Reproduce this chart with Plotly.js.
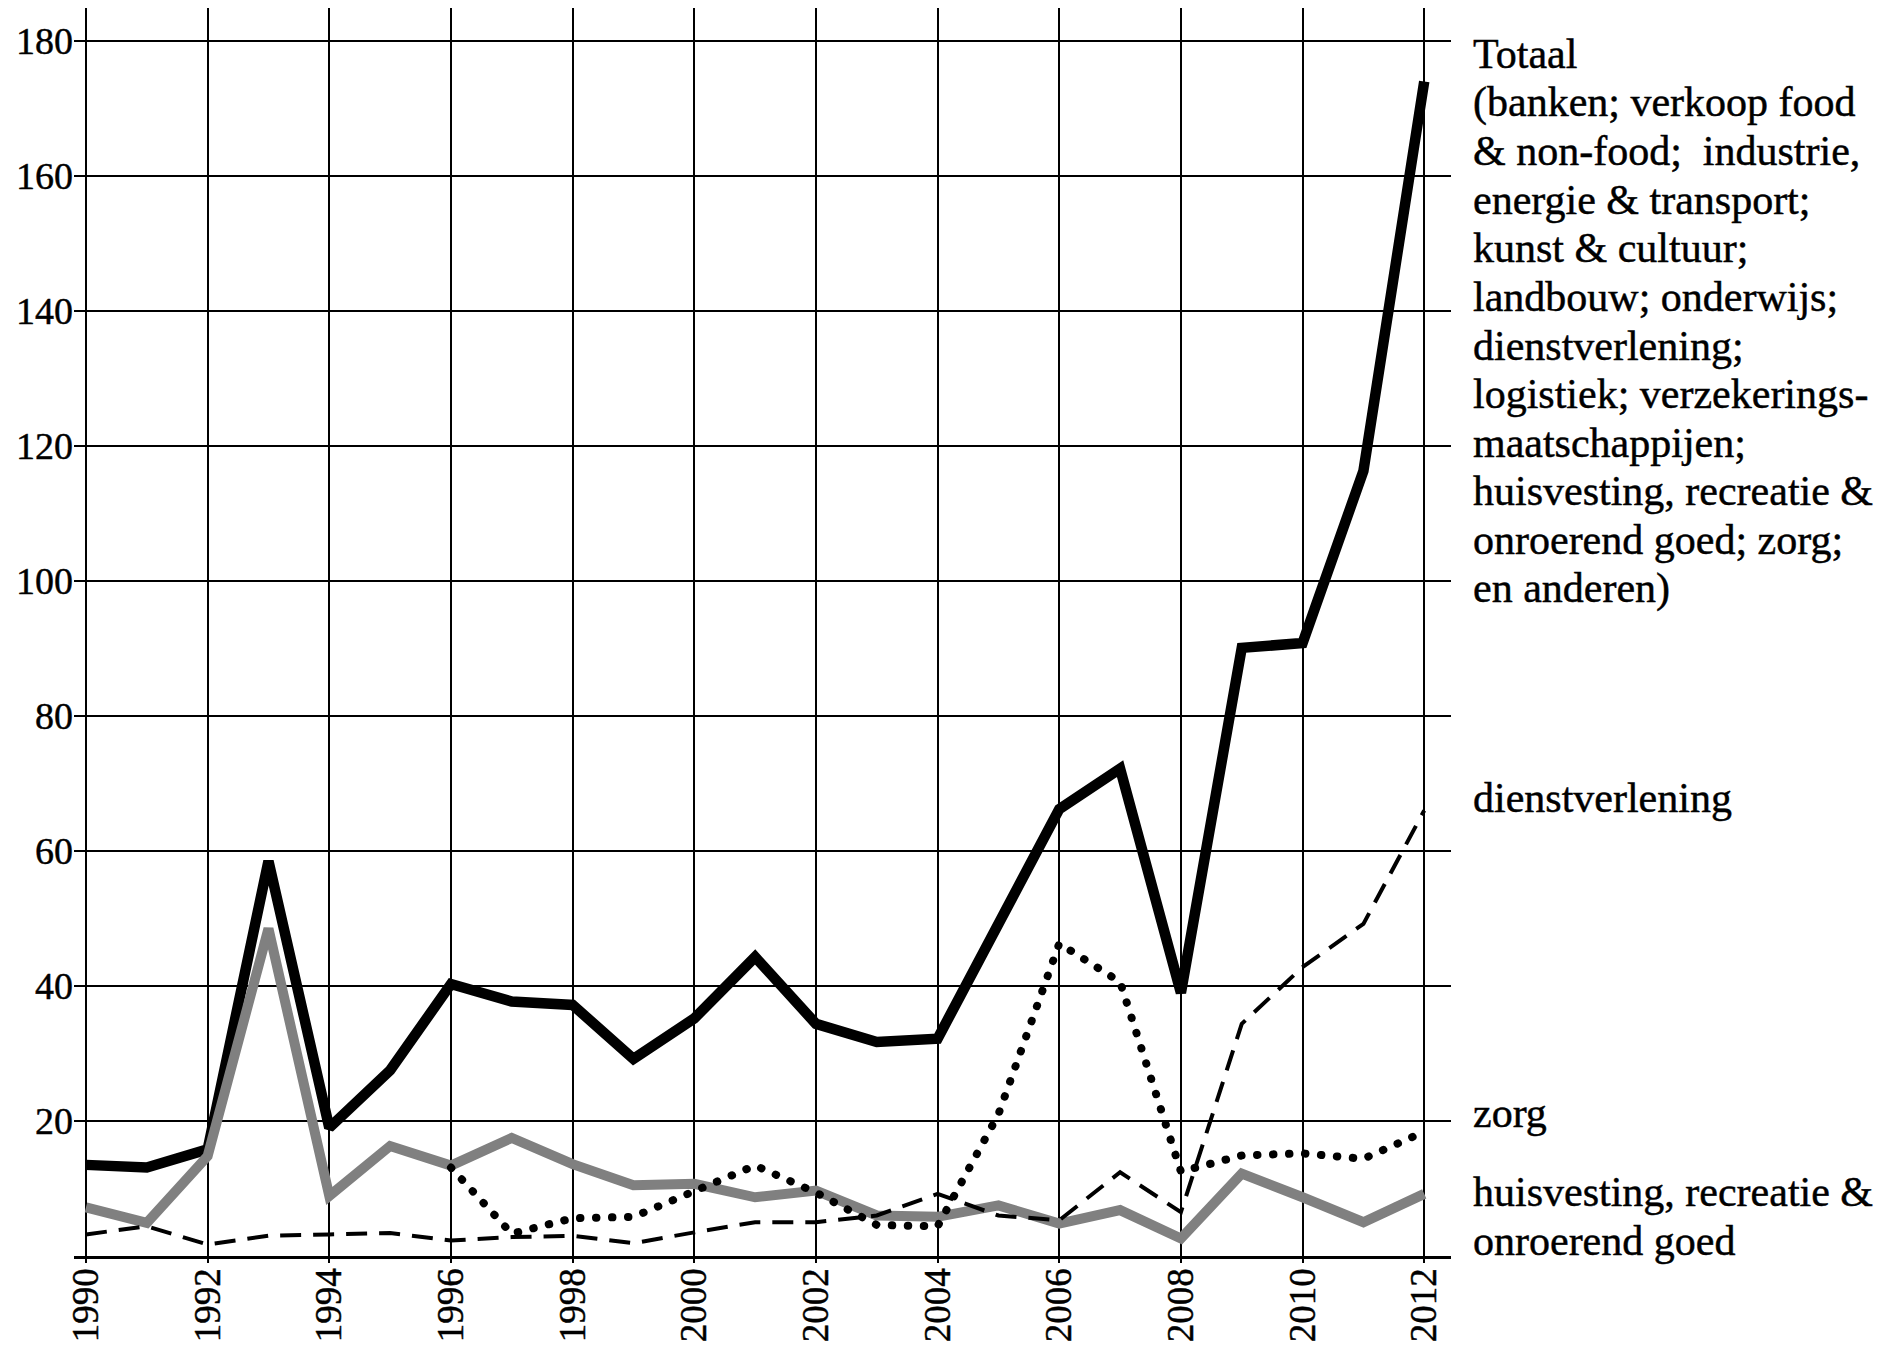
<!DOCTYPE html>
<html>
<head>
<meta charset="utf-8">
<script src="https://cdn.plot.ly/plotly-3.0.1.min.js"></script>
<style>
  html, body { margin: 0; padding: 0; background: #fff; }
  #chart { width: 1897px; height: 1349px; }
  .infolayer .annotation text, .xtick text, .ytick text { stroke: #000; stroke-width: 0.45px; }
</style>
</head>
<body>
<div id="chart"></div>
<script>
// ---- data ----
const years = [1990,1991,1992,1993,1994,1995,1996,1997,1998,1999,2000,2001,2002,2003,2004,2005,2006,2007,2008,2009,2010,2011,2012];
const totaal = [13.5,13.1,15.8,58.5,19,27.5,40.3,37.7,37.2,29.2,35.2,44.3,34.4,31.7,32.2,49.5,66.2,72.2,39,90.1,90.8,116.3,174];
const huisvesting = [7.2,4.9,14.8,48.5,8.9,16.3,13.4,17.5,13.6,10.5,10.7,8.7,9.7,6.0,5.8,7.5,4.8,6.8,2.6,12.2,8.7,5.0,9.2];
const dienstverlening = [3.2,4.4,1.7,3.0,3.2,3.4,2.3,2.8,3.0,1.9,3.5,5.0,5.0,6.0,9.2,6.0,5.3,12.4,6.5,34.4,42.8,49.2,66.0];
const zorg = [null,null,null,null,null,null,13.1,3.3,5.6,5.8,9.6,13.4,9.4,4.6,4.4,21,46.3,40.6,12.5,14.9,15.2,14.4,18.4];
const xTickVals = [1990,1992,1994,1996,1998,2000,2002,2004,2006,2008,2010,2012];
const xTickText = ["1990","1992","1994","1996","1998","2000","2002","2004","2006","2008","2010","2012"];
const yTickVals = [20,40,60,80,100,120,140,160,180];
const yTickText = ["20","40","60","80","100","120","140","160","180"];
const totaalLabel = [
  "Totaal",
  "(banken; verkoop food",
  "&amp; non-food;\u00a0 industrie,",
  "energie &amp; transport;",
  "kunst &amp; cultuur;",
  "landbouw; onderwijs;",
  "dienstverlening;",
  "logistiek; verzekerings-",
  "maatschappijen;",
  "huisvesting, recreatie &amp;",
  "onroerend goed; zorg;",
  "en anderen)"
];
const dienstLabel = ["dienstverlening"];
const zorgLabel = ["zorg"];
const huisLabel = ["huisvesting, recreatie &amp;", "onroerend goed"];

// ---- layout helpers ----
const W = 1897, H = 1349;
const M = {l: 74, r: 446, t: 8, b: 93};
const plotW = W - M.l - M.r, plotH = H - M.t - M.b;
const FONT = 'Liberation Serif';
const LBL_FONT = {family: FONT, size: 42, color: '#000'};
const LINE_GAP = 48.6;

function labelLines(lines, firstBaseline) {
  return lines.map((t, i) => {
    const base = firstBaseline + i * LINE_GAP;
    return {
      xref: 'paper', yref: 'paper',
      x: (1471 - M.l) / plotW, xanchor: 'left',
      y: (M.t + plotH - (base - 14)) / plotH, yanchor: 'middle',
      text: t, showarrow: false, font: LBL_FONT, align: 'left'
    };
  });
}

const traces = [
  {x: years, y: totaal, mode: 'lines', name: 'Totaal',
   line: {color: '#000', width: 10.5}},
  {x: years, y: huisvesting, mode: 'lines', name: 'huisvesting',
   line: {color: '#808080', width: 10}},
  {x: years, y: dienstverlening, mode: 'lines', name: 'dienstverlening',
   line: {color: '#000', width: 4, dash: '21px,12px'}},
  {x: years, y: zorg, mode: 'lines', name: 'zorg',
   line: {color: '#000', width: 8, dash: '0.5px,15.5px'}}
];

const layout = {
  width: W, height: H,
  margin: {l: M.l, r: M.r, t: M.t, b: M.b, pad: 0},
  paper_bgcolor: '#fff', plot_bgcolor: '#fff',
  showlegend: false,
  xaxis: {
    range: [1989.803, 2012.44],
    tickmode: 'array', tickvals: xTickVals, ticktext: xTickText,
    tickangle: -90,
    showgrid: true, gridcolor: '#000', gridwidth: 2,
    ticks: 'outside', ticklen: 4, tickwidth: 2, tickcolor: '#000',
    showline: true, linecolor: '#000', linewidth: 2.5,
    zeroline: false,
    tickfont: {family: FONT, size: 37, color: '#000'},
    ticklabelstandoff: -9
  },
  yaxis: {
    range: [0, 184.89],
    tickmode: 'array', tickvals: yTickVals, ticktext: yTickText,
    showgrid: true, gridcolor: '#000', gridwidth: 2,
    ticks: '', showline: false, zeroline: false,
    tickfont: {family: FONT, size: 38, color: '#000'},
    ticklabelstandoff: 0
  },
  annotations: [].concat(
    labelLines(totaalLabel, 68),
    labelLines(dienstLabel, 812),
    labelLines(zorgLabel, 1127),
    labelLines(huisLabel, 1206)
  )
};

function roundDots() {
  const lines = document.querySelectorAll('.scatterlayer .trace');
  if (lines.length >= 4) {
    lines[3].querySelectorAll('path.js-line').forEach(p => {
      p.style.strokeLinecap = 'round';
    });
  }
}

Plotly.newPlot('chart', traces, layout, {displayModeBar: false, staticPlot: true}).then(roundDots);
</script>
</body>
</html>
